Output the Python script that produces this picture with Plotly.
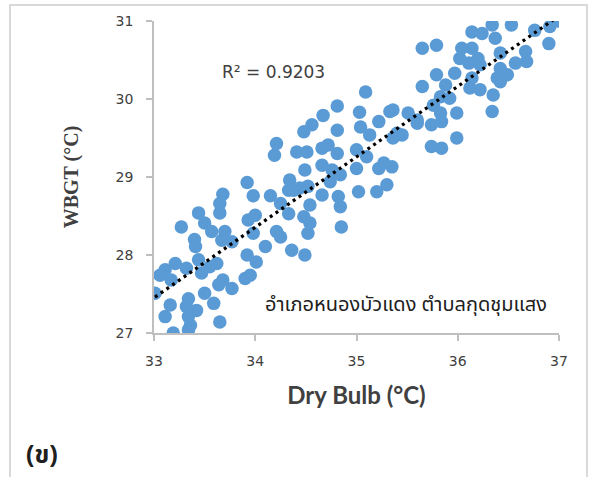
import numpy as np
import plotly.graph_objects as go

# Data
dry_bulb = [
    33.92, 33.68, 33.65, 33.65, 33.98, 34.15, 33.44, 33.27, 33.50, 33.57,
    33.70, 33.67, 33.77, 33.40, 33.41, 33.93, 34.00, 33.98, 34.21, 34.25,
    34.10, 33.92, 34.01, 34.36, 34.49, 33.21, 33.11, 33.06, 33.17, 33.32,
    33.44, 33.47, 33.62, 33.55, 33.68, 33.64, 33.77, 33.90, 33.95, 33.01,
    33.16, 33.11, 33.19, 33.34, 33.32, 33.42, 33.34, 33.36, 33.34, 33.50,
    33.59, 33.65, 34.33,
    35.09, 34.81, 34.67, 34.56, 34.48, 34.81, 35.03, 35.33, 35.22, 35.04,
    35.13, 35.36, 35.45, 35.51, 35.60, 34.21, 34.19, 34.41, 34.51, 34.66,
    34.72, 34.81, 35.00, 35.10, 35.27, 35.35, 35.22, 35.00, 34.49, 34.66,
    34.76, 34.84, 34.74, 34.34, 34.38, 34.52, 34.66, 34.54, 34.82, 34.84,
    35.02, 35.20, 35.30, 34.25, 34.33, 34.48, 34.54, 34.85, 34.52, 34.44,
    36.99, 36.91, 36.76, 36.53, 36.34, 36.14, 36.24, 36.37, 36.90, 35.65,
    35.79, 36.04, 36.14, 36.02, 36.20, 36.11, 36.22, 36.42, 36.67, 36.68,
    36.57, 36.42, 36.49, 36.39, 36.42, 35.97, 36.14, 35.79, 35.65, 35.88,
    36.12, 36.22, 36.35, 35.83, 35.92, 35.76, 35.83, 35.99, 36.34, 35.74,
    35.84, 35.99, 35.74, 35.84, 35.36, 35.60, 35.40,
]
wbgt = [
    28.93, 28.78, 28.66, 28.54, 28.76, 28.76, 28.54, 28.36, 28.41, 28.30,
    28.30, 28.19, 28.17, 28.20, 28.11, 28.45, 28.51, 28.28, 28.30, 28.23,
    28.11, 28.00, 27.91, 28.06, 28.00, 27.89, 27.81, 27.74, 27.68, 27.83,
    27.94, 27.77, 27.89, 27.85, 27.68, 27.62, 27.57, 27.70, 27.74, 27.51,
    27.36, 27.21, 27.00, 27.44, 27.34, 27.29, 27.21, 27.10, 27.04, 27.51,
    27.38, 27.14, 28.83,
    30.09, 29.91, 29.79, 29.67, 29.58, 29.60, 29.83, 29.84, 29.71, 29.64,
    29.54, 29.50, 29.54, 29.82, 29.73, 29.43, 29.28, 29.32, 29.32, 29.37,
    29.41, 29.30, 29.35, 29.26, 29.18, 29.13, 29.11, 29.11, 29.09, 29.15,
    29.09, 29.03, 28.94, 28.96, 28.83, 28.88, 28.77, 28.64, 28.75, 28.62,
    28.81, 28.81, 28.90, 28.66, 28.53, 28.49, 28.41, 28.36, 28.28, 28.86,
    31.00, 30.93, 30.88, 30.95, 30.95, 30.86, 30.84, 30.78, 30.71, 30.65,
    30.69, 30.65, 30.65, 30.52, 30.52, 30.46, 30.44, 30.59, 30.61, 30.48,
    30.46, 30.39, 30.31, 30.27, 30.22, 30.33, 30.27, 30.31, 30.16, 30.18,
    30.14, 30.12, 30.05, 30.03, 30.01, 29.92, 29.82, 29.82, 29.84, 29.67,
    29.71, 29.50, 29.39, 29.37, 29.86, 29.69, 29.56,
]
x_ticks = [33, 34, 35, 36, 37]
y_ticks = [27, 28, 29, 30, 31]
r2_label = "R² = 0.9203"
place_label = "อำเภอหนองบัวแดง ตำบลกุดชุมแสง"
panel_label = "(ข)"
x_title = "Dry Bulb (°C)"
y_title = "WBGT (°C)"

# Linear trend line fitted from the data
xs = np.array(dry_bulb)
ys = np.array(wbgt)
slope, intercept = np.polyfit(xs, ys, 1)
trend_x = np.array([xs.min(), xs.max()])
trend_y = slope * trend_x + intercept

fig = go.Figure()
fig.add_trace(go.Scatter(
    x=dry_bulb, y=wbgt, mode="markers",
    marker=dict(size=13.5, color="#5b9bd5", line=dict(width=0)),
    showlegend=False,
))
fig.add_trace(go.Scatter(
    x=trend_x, y=trend_y, mode="lines",
    line=dict(color="black", width=3.2, dash="3px,4px"),
    showlegend=False,
))

axis_common = dict(
    showgrid=False, zeroline=False, showline=True,
    linecolor="#bfbfbf", linewidth=1.5,
    ticks="outside", ticklen=6, tickcolor="#bfbfbf", tickwidth=1.5,
    tickfont=dict(family="DejaVu Sans", size=14, color="#404040"),
)
fig.update_xaxes(range=[x_ticks[0], x_ticks[-1]], tickvals=x_ticks,
                 ticklabelstandoff=8,
                 title=dict(text=f"<b>{x_title}</b>",
                            font=dict(family="Lato", size=24, color="#404040"),
                            standoff=20),
                 **axis_common)
fig.update_yaxes(range=[y_ticks[0], y_ticks[-1]], tickvals=y_ticks,
                 ticklabelstandoff=10,
                 title=dict(text=f"<b>{y_title}</b>",
                            font=dict(family="Liberation Serif", size=20, color="#404040"),
                            standoff=32),
                 **axis_common)

fig.add_annotation(x=0.163, y=0.835, xref="paper", yref="paper",
                   text=r2_label, showarrow=False, xanchor="left", yanchor="middle",
                   font=dict(family="DejaVu Sans", size=17, color="#404040"))
fig.add_annotation(x=0.27, y=0.09, xref="paper", yref="paper",
                   text=place_label, showarrow=False, xanchor="left", yanchor="middle",
                   font=dict(family="Noto Sans Thai, Tahoma, Noto Sans, sans-serif",
                             size=20, color="#202020"))
fig.add_annotation(x=-0.32, y=-0.392, xref="paper", yref="paper",
                   text=f"<b>{panel_label}</b>", showarrow=False, xanchor="left",
                   yanchor="middle",
                   font=dict(family="Noto Sans Thai, Tahoma, Noto Sans, sans-serif",
                             size=25, color="#202020"))

fig.add_shape(type="rect", xref="paper", yref="paper",
              x0=-0.3556, x1=1.069, y0=-0.48, y1=1.0513,
              line=dict(color="#d9d9d9", width=2), layer="below")

fig.update_layout(
    width=589, height=477,
    margin=dict(l=154, r=30, t=21, b=144),
    paper_bgcolor="white", plot_bgcolor="white",
)

fig.write_html("out.html")
